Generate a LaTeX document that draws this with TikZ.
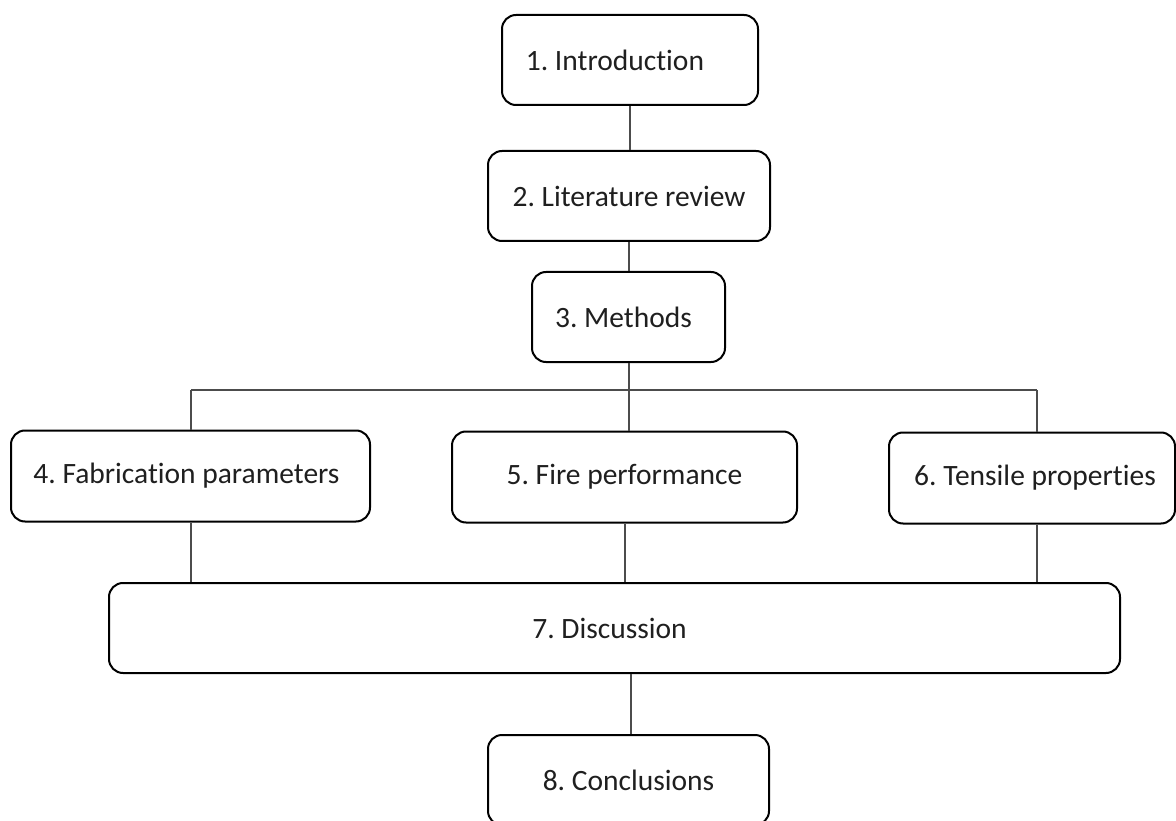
\documentclass[tikz,border=0pt]{standalone}
\usepackage{fontspec}
\setmainfont[Ligatures=NoCommon]{Carlito}
\frenchspacing
\begin{document}
\begin{tikzpicture}[x=1pt,y=-1pt,
  stagebox/.style={draw=black, line width=2pt, rounded corners=14pt, inner sep=0pt,
    font=\fontsize{29.5}{34}\selectfont, text=black!88},
  link/.style={draw=black!70, line width=1.2pt}]
\useasboundingbox (0,0) rectangle (1176,821);
\clip (0,0) rectangle (1176,821);
\node[stagebox, minimum width=256pt, minimum height=90pt] (n1) at (630,60) {\hspace*{-30pt}1. Introduction};
\node[stagebox, minimum width=282pt, minimum height=90pt] (n2) at (629,196) {2. Literature review};
\node[stagebox, minimum width=193pt, minimum height=90pt] (n3) at (628.5,317) {\hspace*{-10pt}3. Methods};
\node[stagebox, minimum width=359pt, minimum height=91pt] (n4) at (190.5,476) {\hspace*{-8pt}4. Fabrication parameters};
\node[stagebox, minimum width=345pt, minimum height=91pt] (n5) at (624.5,477) {5. Fire performance};
\node[stagebox, minimum width=286pt, minimum height=91pt] (n6) at (1032,478) {\hspace*{6pt}6. Tensile properties};
\node[stagebox, minimum width=1011pt, minimum height=90pt] (n7) at (614.5,628) {\hspace*{-10pt}7. Discussion};
\node[stagebox, minimum width=281pt, minimum height=90pt] (n8) at (628.5,780) {8. Conclusions};
\coordinate (busL) at (191,390);
\coordinate (busR) at (1037,390);
\coordinate (c12) at (630,0);
\coordinate (c23) at (629,0);
\coordinate (c35) at (629,0);
\coordinate (c57) at (625,0);
\coordinate (c78) at (631,0);
\draw[link] (c12 |- n1.south) -- (c12 |- n2.north);
\draw[link] (c23 |- n2.south) -- (c23 |- n3.north);
\draw[link] (c35 |- n3.south) -- (c35 |- n5.north);
\draw[link] (busL) -- (busR);
\draw[link] (busL) -- (busL |- n4.north);
\draw[link] (busR) -- (busR |- n6.north);
\draw[link] (busL |- n4.south) -- (busL |- n7.north);
\draw[link] (c57 |- n5.south) -- (c57 |- n7.north);
\draw[link] (busR |- n6.south) -- (busR |- n7.north);
\draw[link] (c78 |- n7.south) -- (c78 |- n8.north);
\end{tikzpicture}
\end{document}
